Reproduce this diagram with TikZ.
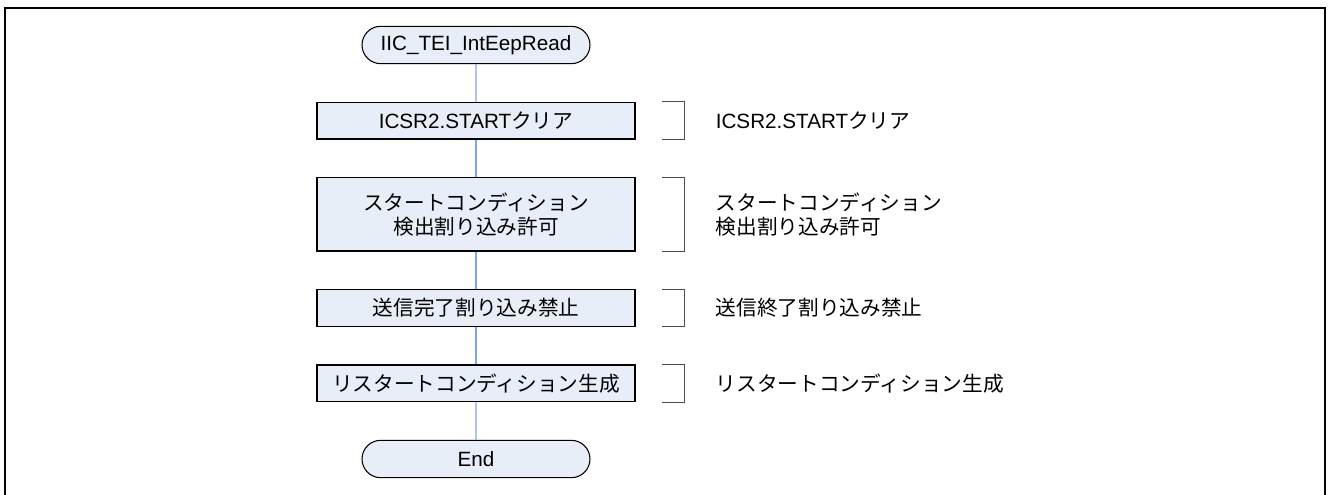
\documentclass[tikz,border=0pt]{standalone}
\usepackage{fontspec}
\setmainfont{Liberation Sans}
\newfontfamily\jp{Noto Sans CJK JP}
\usetikzlibrary{positioning, shapes.misc}
\definecolor{boxfill}{HTML}{E8EEF7}
\definecolor{linkblue}{HTML}{7EA6E0}
\tikzstyle{term}=[draw, thick, fill=boxfill, rounded rectangle, minimum width=171pt, minimum height=28pt, inner sep=0pt, font=\fontsize{15.5}{18}\selectfont]
\tikzstyle{box}=[draw, thick, fill=boxfill, minimum width=238.5pt, minimum height=27.5pt, inner sep=0pt, align=center, font=\fontsize{15.5}{18}\selectfont]
\tikzstyle{conn} = [draw=linkblue, line width=0.8pt]
\tikzstyle{brk} = [draw=black!70, line width=0.6pt]
\tikzstyle{note}=[anchor=west, align=left, inner sep=0pt, font=\fontsize{15.5}{18}\selectfont]

\begin{document}
\begin{tikzpicture}[x=0.75pt, y=-0.75pt, node distance=28.2pt]
    \useasboundingbox (0,0) rectangle (1328,495);
    \draw[line width=1.5pt] (5,497) |- (1325,8) -- (1325,497);

    \node [term] (S) at (476,45) {IIC\_TEI\_IntEepRead};
    \node [box, below=of S] (b1) {ICSR2.START{\jp クリア}};
    \node [box, below=of b1, minimum height=55pt] (b2) {\jp スタートコンディション\\\jp 検出割り込み許可};
    \node [box, below=of b2] (b3) {\jp 送信完了割り込み禁止};
    \node [box, below=of b3] (b4) {\jp リスタートコンディション生成};
    \node [term, below=of b4] (E) {End};

    \path (S) edge[conn] (b1);
    \path (b1) edge[conn] (b2);
    \path (b2) edge[conn] (b3);
    \path (b3) edge[conn] (b4);
    \path (b4) edge[conn] (E);

    % comments beside the steps
    \draw[brk] ([xshift=20pt]b1.north east) -- ++(17pt,0) |- ([xshift=20pt]b1.south east);
    \draw[brk] ([xshift=20pt]b2.north east) -- ++(17pt,0) |- ([xshift=20pt]b2.south east);
    \draw[brk] ([xshift=20pt]b3.north east) -- ++(17pt,0) |- ([xshift=20pt]b3.south east);
    \draw[brk] ([xshift=20pt]b4.north east) -- ++(17pt,0) |- ([xshift=20pt]b4.south east);

    \node [note] (n1) at ([xshift=60pt]b1.east) {ICSR2.START{\jp クリア}};
    \node [note] (n2) at ([xshift=60pt]b2.east) {\jp スタートコンディション\\\jp 検出割り込み許可};
    \node [note] (n3) at ([xshift=60pt]b3.east) {\jp 送信終了割り込み禁止};
    \node [note] (n4) at ([xshift=60pt]b4.east) {\jp リスタートコンディション生成};
\end{tikzpicture}
\end{document}
